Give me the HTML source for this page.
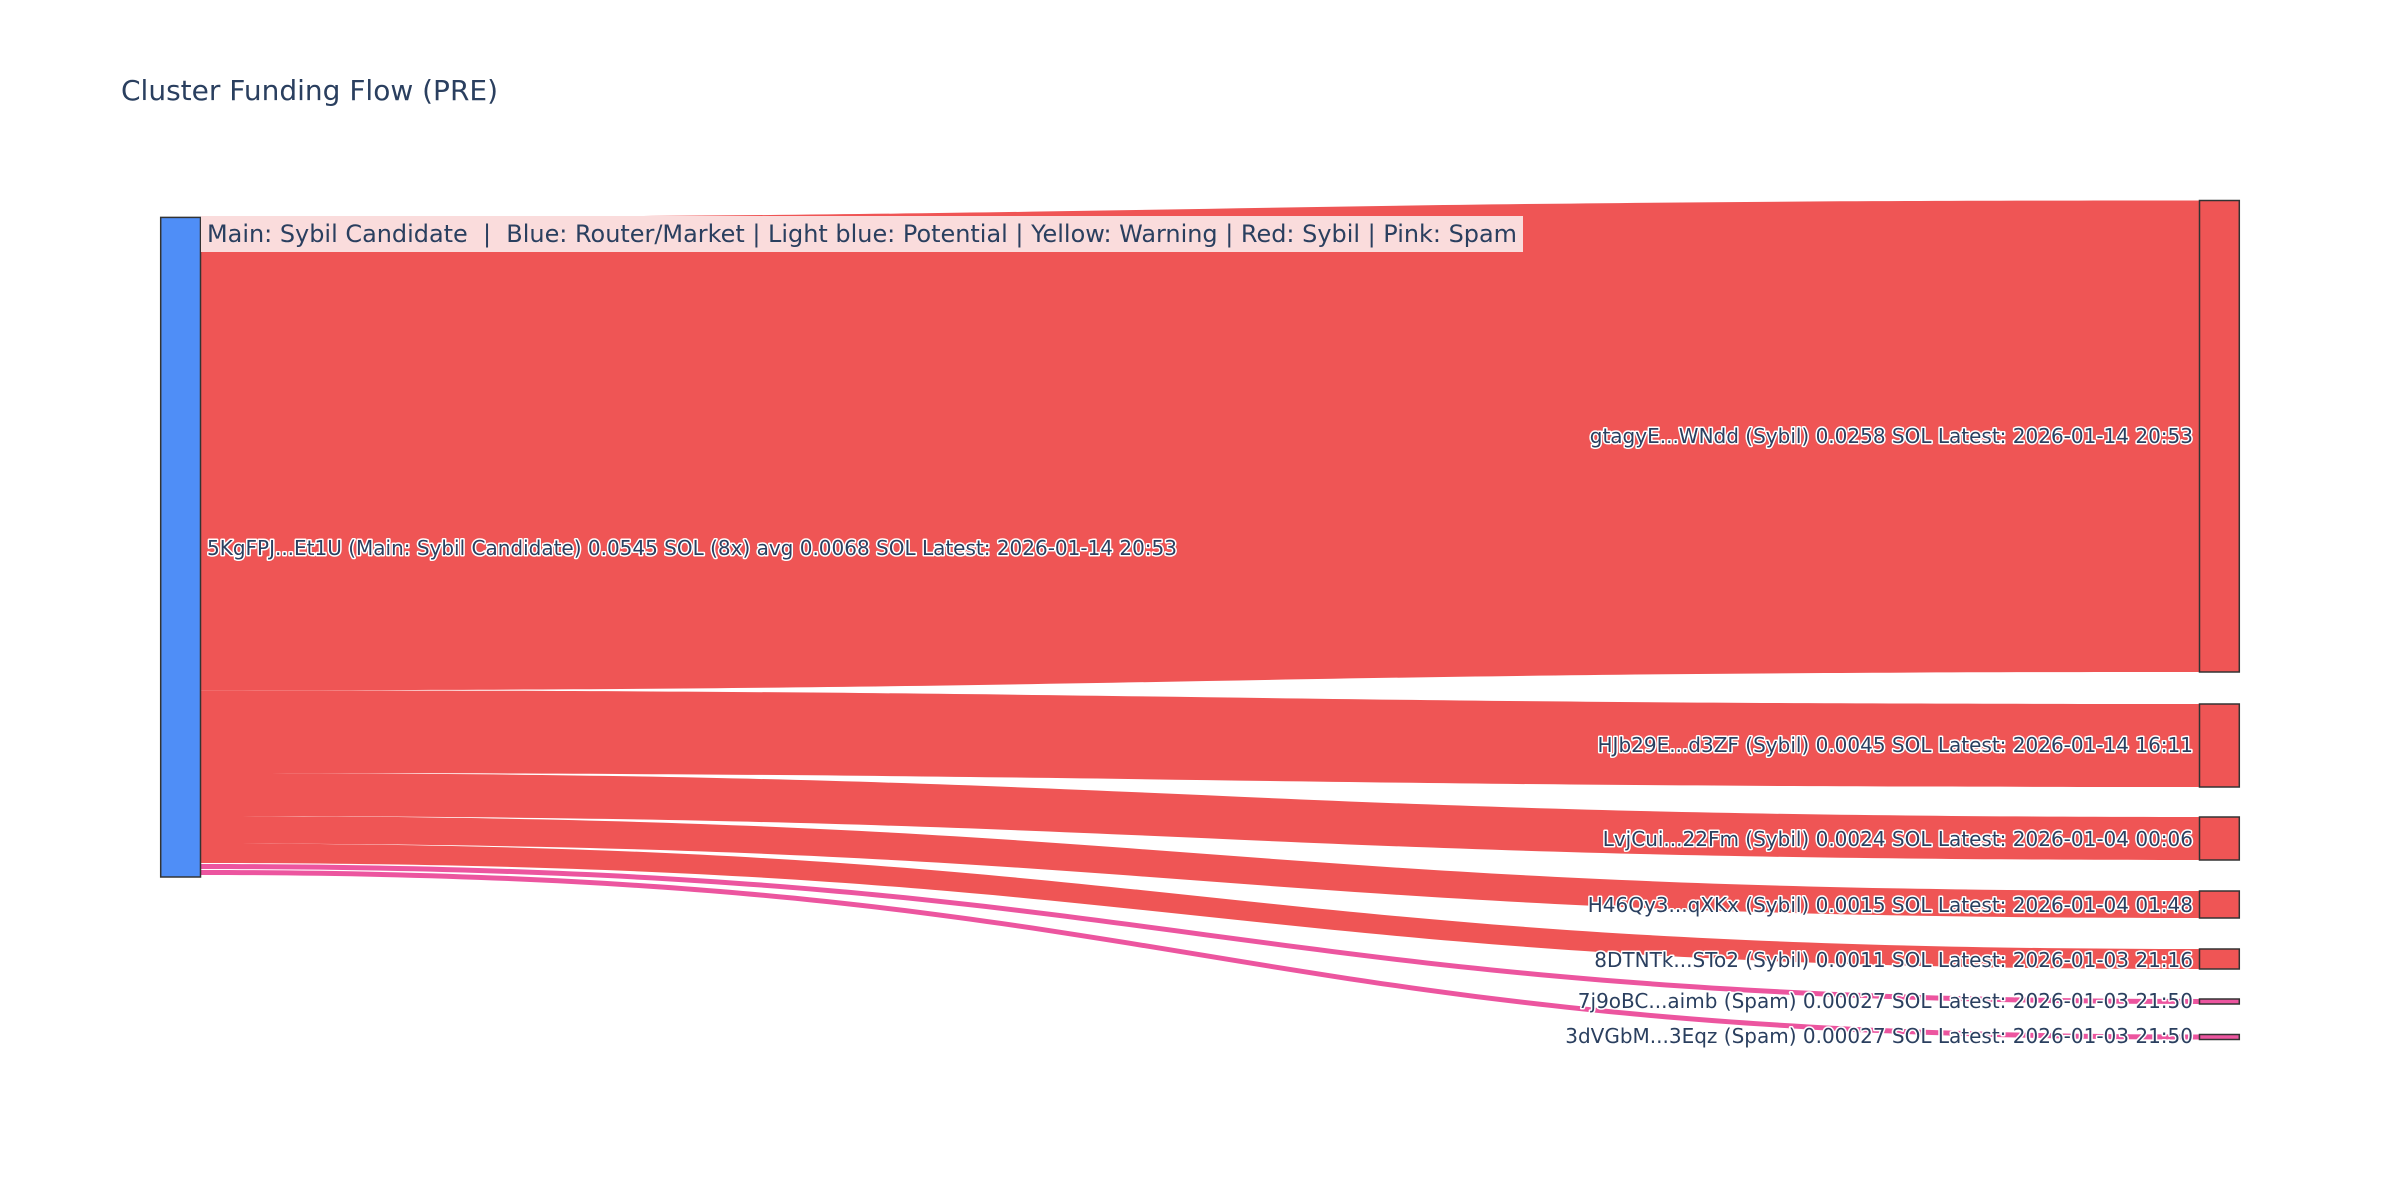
<!DOCTYPE html>
<html><head><meta charset="utf-8"><style>
html,body{margin:0;padding:0;background:#fff;}
svg{display:block;}
.lbl{font-family:"DejaVu Sans","Liberation Sans",sans-serif;font-size:20px;fill:#2a3f5f;paint-order:stroke;stroke:#fff;stroke-width:3px;stroke-linejoin:round;}
</style></head><body>
<svg width="2400" height="1200" viewBox="0 0 2400 1200" xmlns="http://www.w3.org/2000/svg">
<text x="121" y="100" font-family="DejaVu Sans, Liberation Sans, sans-serif" font-size="28" fill="#2a3f5f">Cluster Funding Flow (PRE)</text>
<g fill="#ef5555">
<path d="M200.5 217.4 C1200 217.4,1200 200.5,2199.5 200.5 L2199.5 672 C1200 672,1200 690.3,200.5 690.3 Z"/>
<path d="M200.5 690.3 C1200 690.3,1200 704,2199.5 704 L2199.5 787 C1200 787,1200 773,200.5 773 Z"/>
<path d="M200.5 773 C1200 773,1200 817,2199.5 817 L2199.5 860 C1200 860,1200 816,200.5 816 Z"/>
<path d="M200.5 816 C1200 816,1200 891,2199.5 891 L2199.5 918 C1200 918,1200 843.5,200.5 843.5 Z"/>
<path d="M200.5 843.5 C1200 843.5,1200 949,2199.5 949 L2199.5 969 C1200 969,1200 863,200.5 863 Z"/>
</g>
<g fill="#ec559f">
<path d="M200.5 864 C1200 864,1200 999,2199.5 999 L2199.5 1004 C1200 1004,1200 869,200.5 869 Z"/>
<path d="M200.5 870 C1200 870,1200 1034.5,2199.5 1034.5 L2199.5 1039.5 C1200 1039.5,1200 875,200.5 875 Z"/>
</g>
<rect x="160.7" y="217.4" width="39.8" height="659.6" fill="#4f8ef7" stroke="#333" stroke-width="1.5"/>
<g stroke="#333" stroke-width="1.5">
<rect x="2199.5" y="200.5" width="39.8" height="471.5" fill="#ef5555"/>
<rect x="2199.5" y="704" width="39.8" height="83" fill="#ef5555"/>
<rect x="2199.5" y="817" width="39.8" height="43" fill="#ef5555"/>
<rect x="2199.5" y="891" width="39.8" height="27" fill="#ef5555"/>
<rect x="2199.5" y="949" width="39.8" height="20" fill="#ef5555"/>
<rect x="2199.5" y="999" width="39.8" height="5" fill="#ec559f"/>
<rect x="2199.5" y="1034.5" width="39.8" height="5" fill="#ec559f"/>
</g>
<rect x="201" y="216" width="1322" height="36" fill="#fadcdc"/>
<text x="207" y="242" font-family="DejaVu Sans, Liberation Sans, sans-serif" font-size="24" fill="#2a3f5f" textLength="1310" lengthAdjust="spacingAndGlyphs" xml:space="preserve">Main: Sybil Candidate  |  Blue: Router/Market | Light blue: Potential | Yellow: Warning | Red: Sybil | Pink: Spam</text>
<text class="lbl" x="207" y="555" textLength="970" lengthAdjust="spacingAndGlyphs">5KgFPJ...Et1U (Main: Sybil Candidate) 0.0545 SOL (8x) avg 0.0068 SOL Latest: 2026-01-14 20:53</text>
<g text-anchor="end">
<text class="lbl" x="2193" y="443">gtagyE...WNdd (Sybil) 0.0258 SOL Latest: 2026-01-14 20:53</text>
<text class="lbl" x="2193" y="752">HJb29E...d3ZF (Sybil) 0.0045 SOL Latest: 2026-01-14 16:11</text>
<text class="lbl" x="2193" y="846">LvjCui...22Fm (Sybil) 0.0024 SOL Latest: 2026-01-04 00:06</text>
<text class="lbl" x="2193" y="912">H46Qy3...qXKx (Sybil) 0.0015 SOL Latest: 2026-01-04 01:48</text>
<text class="lbl" x="2193" y="967">8DTNTk...STo2 (Sybil) 0.0011 SOL Latest: 2026-01-03 21:16</text>
<text class="lbl" x="2193" y="1008">7j9oBC...aimb (Spam) 0.00027 SOL Latest: 2026-01-03 21:50</text>
<text class="lbl" x="2193" y="1043">3dVGbM...3Eqz (Spam) 0.00027 SOL Latest: 2026-01-03 21:50</text>
</g>
</svg>
</body></html>
